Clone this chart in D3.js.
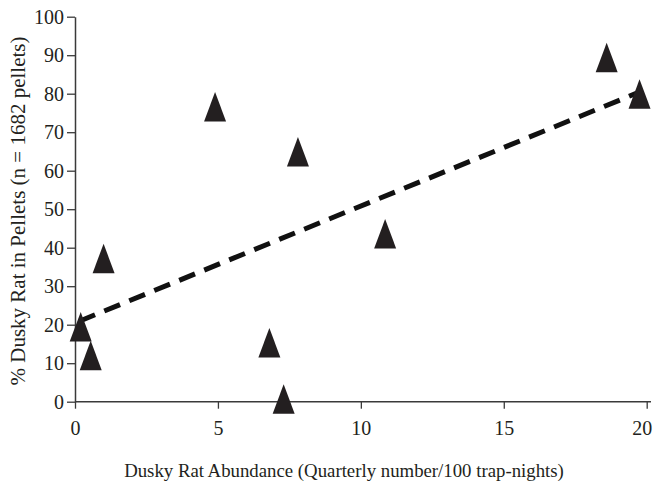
<!DOCTYPE html>
<html>
<head>
<meta charset="utf-8">
<script src="https://cdn.jsdelivr.net/npm/d3@7"></script>
<style>
html,body{margin:0;padding:0;background:#fff;}
svg{display:block;font-family:"Liberation Serif","Times New Roman",serif;}
</style>
</head>
<body>
<svg id="chart" width="653" height="484"></svg>
<script>
// Data
const abundance = [0.2, 0.55, 1.0, 4.9, 6.8, 7.3, 7.8, 10.85, 18.6, 19.75];
const percentRat = [19.5, 12, 37.2, 76.6, 15.3, 0.7, 64.9, 43.6, 89.4, 79.9];
const trendX = [0.15, 19.8];
const trendY = [20.9, 80.6];
const xTicks = [0, 5, 10, 15, 20];
const yTicks = [0, 10, 20, 30, 40, 50, 60, 70, 80, 90, 100];
const xTitle = "Dusky Rat Abundance (Quarterly number/100 trap-nights)";
const yTitle = "% Dusky Rat in Pellets (n = 1682 pellets)";

const svg = d3.select("#chart");
const x = d3.scaleLinear().domain([0, 20]).range([75, 646.7]);
const y = d3.scaleLinear().domain([0, 100]).range([401.7, 16.7]);
const axisColor = "#3a3a3a";

// X axis
const gx = svg.append("g").attr("transform", `translate(0,${y(0)})`)
  .call(d3.axisBottom(x).tickValues(xTicks).tickSize(7).tickSizeOuter(0).tickPadding(12));
gx.select(".domain").remove();
svg.append("line").attr("x1", x(0)).attr("x2", 651).attr("y1", y(0)).attr("y2", y(0))
  .attr("stroke", axisColor).attr("stroke-width", 1.5);

// Y axis
const gy = svg.append("g").attr("transform", `translate(${x(0)},0)`)
  .call(d3.axisLeft(y).tickValues(yTicks).tickSize(8).tickSizeOuter(0).tickPadding(3));
gy.select(".domain").attr("stroke", axisColor).attr("stroke-width", 1.5);

[gx, gy].forEach(g => {
  g.selectAll(".tick line").attr("stroke", axisColor).attr("stroke-width", 1.3);
  g.selectAll(".tick text").attr("fill", "#231f20")
    .style("font-family", '"Liberation Serif", serif').style("font-size", "20px");
});
gx.selectAll(".tick text").attr("dy", "0.71em");
gx.selectAll(".tick").filter(d => d === 20).select("text").attr("x", -5);

// Trend line
svg.append("line")
  .attr("x1", x(trendX[0])).attr("y1", y(trendY[0]))
  .attr("x2", x(trendX[1])).attr("y2", y(trendY[1]))
  .attr("stroke", "#111").attr("stroke-width", 5)
  .attr("stroke-dasharray", "17,10");

// Triangles
const triW = 22, triH = 29.5;
svg.append("g").selectAll("path")
  .data(abundance.map((a, i) => [a, percentRat[i]]))
  .join("path")
  .attr("d", d => {
    const cx = x(d[0]), cy = y(d[1]);
    return `M${cx},${cy - triH/2}L${cx + triW/2},${cy + triH/2}L${cx - triW/2},${cy + triH/2}Z`;
  })
  .attr("fill", "#231f20");

// Axis titles
svg.append("text").attr("x", 344).attr("y", 477)
  .attr("text-anchor", "middle").attr("fill", "#231f20")
  .style("font-size", "18.8px").text(xTitle);
svg.append("text")
  .attr("transform", `translate(25,211) rotate(-90)`)
  .attr("text-anchor", "middle").attr("fill", "#231f20")
  .style("font-size", "21px").text(yTitle);
</script>
</body>
</html>
